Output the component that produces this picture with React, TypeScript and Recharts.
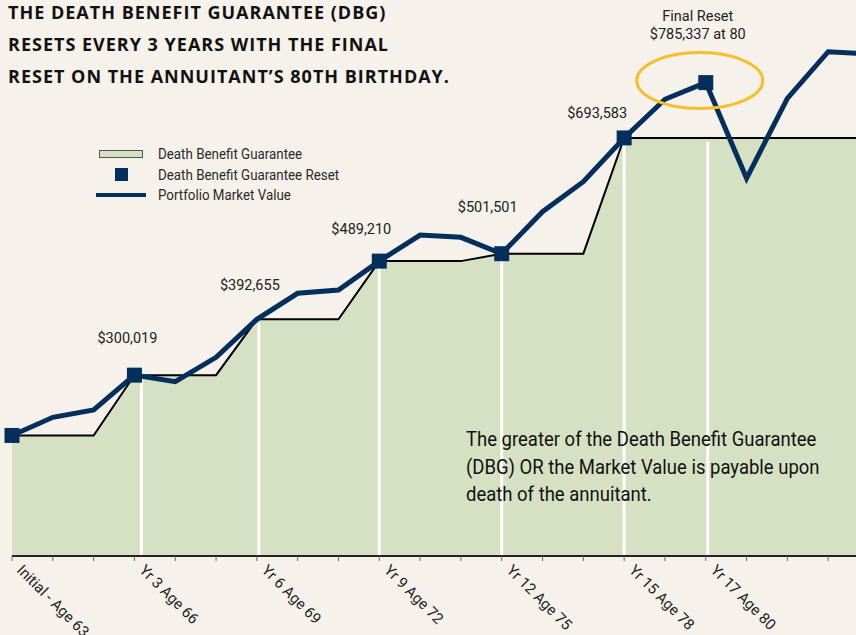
import React from 'react';
import { ComposedChart, Area, Line, Scatter, XAxis, YAxis, ReferenceLine, ReferenceDot, Legend } from 'recharts';

const years = [0, 1, 2, 3, 4, 5, 6, 7, 8, 9, 10, 11, 12, 13, 14, 15, 16, 17, 18, 19, 20, 21];
const marketValue = [
  200000, 230100, 242200, 300019, 289200, 329600, 392655, 435800, 441300, 489210, 532500,
  528700, 501501, 571200, 621000, 693583, 757700, 785337, 626600, 759300, 836600, 832800,
];
const guarantee = [
  200000, 200000, 200000, 300019, 300019, 300019, 392655, 392655, 392655, 489210, 489210,
  489210, 501501, 501501, 501501, 693583, 693583, 693583, 693583, 693583, 693583, 693583,
];
const resetYears = [0, 3, 9, 12, 15, 17];
const dividerYears = [3, 6, 9, 12, 15, 17];
const tickLabelYears = [0, 3, 6, 9, 12, 15, 17];
const tickLabels = ['Initial - Age 63', 'Yr 3 Age 66', 'Yr 6 Age 69', 'Yr 9 Age 72', 'Yr 12 Age 75', 'Yr 15 Age 78', 'Yr 17 Age 80'];
const valueLabelYears = [3, 6, 9, 12, 15];
const valueLabels = ['$300,019', '$392,655', '$489,210', '$501,501', '$693,583'];
const finalResetYear = 17;
const finalResetLines = ['Final Reset', '$785,337 at 80'];
const legendNames = ['Death Benefit Guarantee', 'Death Benefit Guarantee Reset', 'Portfolio Market Value'];

const data = years.map((year, i) => ({ year, market: marketValue[i], dbg: guarantee[i] }));
const resets = resetYears.map((year) => ({ year, market: marketValue[years.indexOf(year)] }));

const NAVY = '#042e5c';
const GREEN = '#d6e1c3';
const BG = '#f6f2eb';
const FONT = "Roboto, 'Noto Sans', sans-serif";

// label offsets (px) from the point they describe
const labelOffset: Record<number, [number, number]> = {
  3: [-7, -32.5],
  6: [-7, -29.5],
  9: [-18, -27],
  12: [-14, -41.5],
  15: [-27, -20],
};
// white divider lines sit a touch right of some reset points
const dividerShift: Record<number, number> = { 3: 7, 6: 2, 17: 2 };

const AxisTick = (props: any) => {
  const { x, y, payload } = props;
  const idx = tickLabelYears.indexOf(payload.value);
  if (idx < 0) return null;
  const tx = x + 4;
  const ty = y + 8;
  return (
    <text x={tx} y={ty} transform={`rotate(45 ${tx} ${ty})`} fontSize={15} fontFamily={FONT} fill="#222">
      {tickLabels[idx]}
    </text>
  );
};

const SquareMarker = (props: any) => {
  const { cx, cy } = props;
  return <rect x={cx - 7.5} y={cy - 7.5} width={15} height={15} fill={NAVY} />;
};

const narrow: React.CSSProperties = {
  display: 'inline-block',
  whiteSpace: 'nowrap',
  transform: 'scaleX(0.89)',
  transformOrigin: 'left center',
};

const LegendBox = () => {
  const symbols = [
    <span style={{ width: 42, height: 6, background: GREEN, border: '1px solid #555' }} />,
    <span style={{ width: 13, height: 13, background: NAVY }} />,
    <span style={{ width: 50, height: 4, background: NAVY }} />,
  ];
  return (
    <div style={{ fontFamily: FONT, fontSize: 15, color: '#2a2a2a', lineHeight: '20.5px' }}>
      {legendNames.map((name, i) => (
        <div key={name} style={{ display: 'flex', alignItems: 'center' }}>
          <span style={{ width: 50, flexShrink: 0, display: 'inline-flex', justifyContent: 'center' }}>{symbols[i]}</span>
          <span style={{ ...narrow, marginLeft: 12 }}>{name}</span>
        </div>
      ))}
    </div>
  );
};

export default function App() {
  return (
    <div style={{ position: 'absolute', left: 0, top: 0, width: 856, height: 635, overflow: 'hidden', background: BG }}>
      <div
        style={{
          position: 'absolute',
          left: 8,
          top: -4,
          fontFamily: "'Open Sans', sans-serif",
          fontWeight: 700,
          fontSize: 18,
          letterSpacing: 1,
          lineHeight: '32px',
          color: '#111',
        }}
      >
        THE DEATH BENEFIT GUARANTEE (DBG)
        <br />
        RESETS EVERY 3 YEARS WITH THE FINAL
        <br />
        RESET ON THE ANNUITANT’S 80TH BIRTHDAY.
      </div>
      <ComposedChart width={880} height={635} data={data} margin={{ top: 13.5, right: 11, left: 12, bottom: 0 }}>
        <XAxis
          dataKey="year"
          type="number"
          domain={[0, 21]}
          ticks={years}
          interval={0}
          height={79}
          axisLine={{ stroke: '#222', strokeWidth: 2 }}
          tickLine={{ stroke: '#666' }}
          tickSize={5}
          tick={<AxisTick />}
        />
        <YAxis hide domain={[0, 900000]} />
        <Legend
          layout="vertical"
          align="center"
          verticalAlign="middle"
          wrapperStyle={{ left: 96, top: 144, width: 260 }}
          content={<LegendBox />}
        />
        <Area
          type="linear"
          dataKey="dbg"
          fill={GREEN}
          fillOpacity={1}
          stroke="#000"
          strokeWidth={2}
          isAnimationActive={false}
        />
        {dividerYears.map((yr) => (
          <ReferenceLine
            key={yr}
            segment={[
              { x: yr, y: guarantee[years.indexOf(yr)] },
              { x: yr, y: 0 },
            ]}
            stroke="#fff"
            strokeWidth={3}
            shape={(p: any) => {
              const dx = dividerShift[yr] || 0;
              return <line x1={p.x1 + dx} y1={p.y1 + 4} x2={p.x2 + dx} y2={p.y2 - 1} stroke="#fff" strokeWidth={3} />;
            }}
          />
        ))}
        <Line
          type="linear"
          dataKey="market"
          stroke={NAVY}
          strokeWidth={5}
          dot={false}
          isAnimationActive={false}
        />
        <Scatter data={resets} dataKey="market" shape={<SquareMarker />} isAnimationActive={false} />
        {valueLabelYears.map((yr, i) => (
          <ReferenceDot
            key={yr}
            x={yr}
            y={marketValue[years.indexOf(yr)]}
            shape={(p: any) => (
              <text
                x={p.cx + labelOffset[yr][0]}
                y={p.cy + labelOffset[yr][1]}
                textAnchor="middle"
                fontSize={14.5}
                fontFamily={FONT}
                fill="#222"
              >
                {valueLabels[i]}
              </text>
            )}
          />
        ))}
        <ReferenceDot
          x={finalResetYear}
          y={marketValue[years.indexOf(finalResetYear)]}
          shape={(p: any) => (
            <g>
              <ellipse cx={p.cx - 6} cy={p.cy - 2} rx={63} ry={28} fill="none" stroke="#f7be2b" strokeWidth={3} />
              <text x={p.cx - 8} y={p.cy - 62} textAnchor="middle" fontSize={14.5} fontFamily={FONT} fill="#222">
                {finalResetLines[0]}
              </text>
              <text x={p.cx - 8} y={p.cy - 44} textAnchor="middle" fontSize={14.5} fontFamily={FONT} fill="#222">
                {finalResetLines[1]}
              </text>
            </g>
          )}
        />
      </ComposedChart>
      <div
        style={{
          position: 'absolute',
          left: 466,
          top: 426,
          fontFamily: FONT,
          fontSize: 21,
          lineHeight: '27.5px',
          color: '#111',
          whiteSpace: 'nowrap',
          transform: 'scaleX(0.88)',
          transformOrigin: 'left top',
        }}
      >
        The greater of the Death Benefit Guarantee
        <br />
        (DBG) OR the Market Value is payable upon
        <br />
        death of the annuitant.
      </div>
    </div>
  );
}
